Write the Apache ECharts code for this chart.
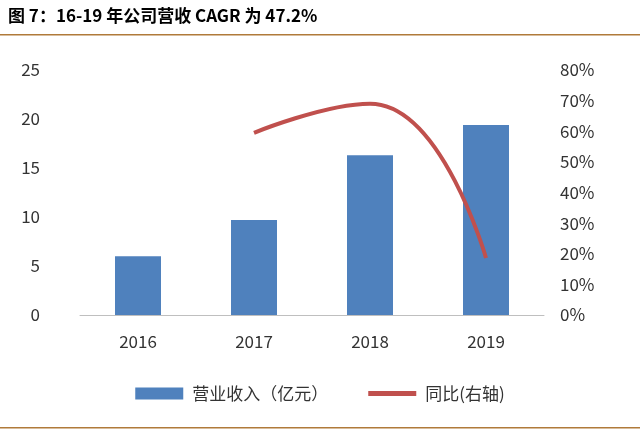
<!DOCTYPE html>
<html><head><meta charset="utf-8">
<script src="https://cdn.jsdelivr.net/npm/echarts@6/dist/echarts.min.js"></script>
<style>html,body{margin:0;padding:0;background:#fff}#c{width:640px;height:431px}</style>
</head><body><div id="c"></div>
<script>
const years = ['2016', '2017', '2018', '2019'];
const revenue = [6.0, 9.7, 16.3, 19.4];
const yoy = [null, 0.595, 0.69, 0.186];

const chart = echarts.init(document.getElementById('c'));
chart.setOption({
  animation: false,
  textStyle: { fontFamily: 'Noto Sans CJK SC' },
  graphic: [
    { type: 'text', left: 8, top: 7, style: { text: '图 7：16-19 年公司营收 CAGR 为 47.2%', font: 'bold 17px "Noto Sans CJK SC"', fill: '#000' } },
    { type: 'rect', shape: { x: 0, y: 34, width: 640, height: 1.5 }, style: { fill: '#b07a3a' } },
    { type: 'rect', shape: { x: 0, y: 427, width: 640, height: 1.5 }, style: { fill: '#b07a3a' } }
  ],
  grid: { left: 80, right: 96, top: 70, bottom: 116 },
  legend: {
    bottom: 24, itemGap: 40, itemWidth: 48, itemHeight: 12,
    textStyle: { fontSize: 17, color: '#333', padding: [0, 0, 0, 4] },
    data: [{ name: '营业收入（亿元）', icon: 'rect' }, { name: '同比(右轴)', icon: 'path://M0,0H10V1H0Z' }]
  },
  xAxis: {
    type: 'category', data: years,
    axisLine: { lineStyle: { color: '#bfbfbf' } }, axisTick: { show: false },
    axisLabel: { fontSize: 17, color: '#333', margin: 18 }
  },
  yAxis: [
    { type: 'value', min: 0, max: 25, interval: 5, splitLine: { show: false },
      axisLabel: { fontSize: 17, color: '#333', margin: 40 } },
    { type: 'value', min: 0, max: 0.8, interval: 0.1, splitLine: { show: false },
      axisLabel: { fontSize: 17, color: '#333', margin: 16, formatter: v => Math.round(v * 100) + '%' } }
  ],
  series: [
    { name: '营业收入（亿元）', type: 'bar', data: revenue, barWidth: 46, itemStyle: { color: '#4F81BD' } },
    { name: '同比(右轴)', type: 'line', yAxisIndex: 1, data: yoy, smooth: 0.5, symbol: 'none',
      lineStyle: { color: '#C0504D', width: 4 }, itemStyle: { color: '#C0504D' } }
  ]
});
</script></body></html>
